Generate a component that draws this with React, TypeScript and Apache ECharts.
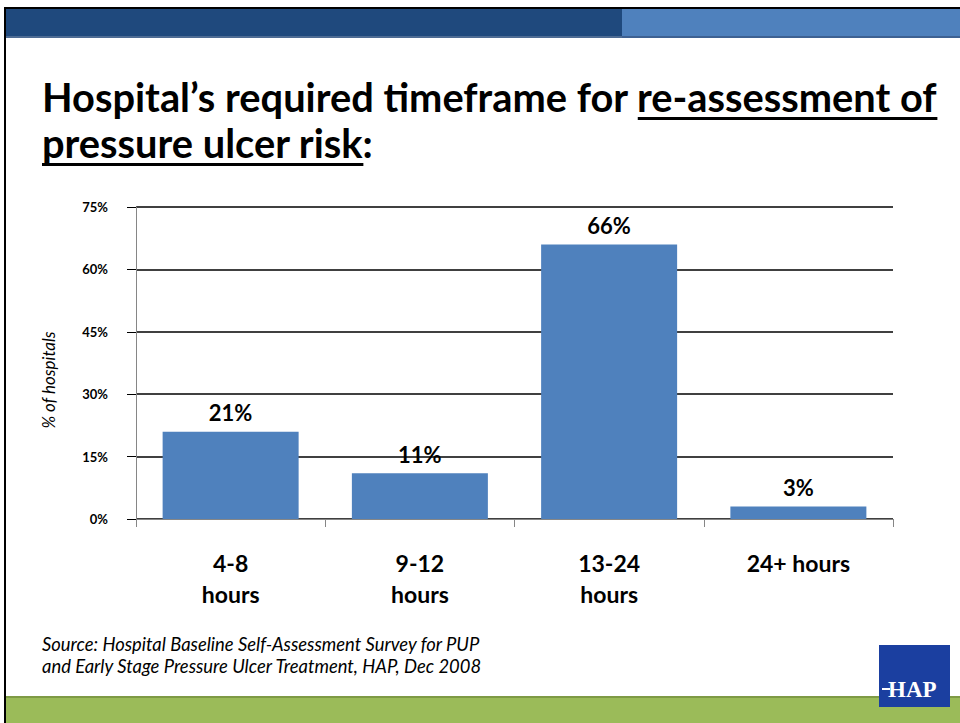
import React, { useEffect, useRef } from "react";
import * as echarts from "echarts";

const categories = ["4-8\nhours", "9-12\nhours", "13-24\nhours", "24+ hours"];
const values = [21, 11, 66, 3];
const yTicks = [0, 15, 30, 45, 60, 75];
const titlePlain1 = "Hospital’s required timeframe for ";
const titleUnder1 = "re-assessment of";
const titleUnder2 = "pressure ulcer risk";
const titlePlain2 = ":";
const sourceLines = [
  "Source: Hospital Baseline Self-Assessment Survey for PUP",
  "and Early Stage Pressure Ulcer Treatment, HAP, Dec 2008",
];
const yAxisName = "% of hospitals";
const logoText = "HAP";

const FONT = "Lato";

function measure(text: string, font: string): number {
  const c = document.createElement("canvas").getContext("2d")!;
  c.font = font;
  return c.measureText(text).width;
}

export default function App() {
  const ref = useRef<HTMLDivElement>(null);
  useEffect(() => {
    document.body.style.margin = "0";
    document.body.style.overflow = "hidden";
    const chart = echarts.init(ref.current!, null, { renderer: "svg" });

    const titleX = 42;
    const titleTarget = 896;
    const w100 = measure(titlePlain1 + titleUnder1, `bold 100px ${FONT}`);
    const titleSize = Math.round(((100 * titleTarget) / w100) * 10) / 10;
    const tf = `bold ${titleSize}px ${FONT}`;
    const plain1W = measure(titlePlain1, tf);
    const under1W = measure(titleUnder1, tf);
    const under2W = measure(titleUnder2, tf);

    const srcW100 = measure(sourceLines[0], `italic 100px ${FONT}`);
    const srcSize = Math.round(((100 * 438) / srcW100) * 10) / 10;

    const titleStyle = {
      fontSize: titleSize,
      fontFamily: FONT,
      fontWeight: "bold",
      fill: "#000",
      align: "left",
      verticalAlign: "middle",
    };

    const option: any = {
      animation: false,
      backgroundColor: "#ffffff",
      grid: { left: 136, right: 67, top: 207, bottom: 204 },
      xAxis: {
        type: "category",
        data: categories,
        axisLine: { lineStyle: { color: "#868686", width: 1 } },
        axisTick: { show: true, length: 8, lineStyle: { color: "#868686" } },
        axisLabel: {
          interval: 0,
          margin: 28,
          color: "#000",
          fontSize: 23,
          fontWeight: "bold",
          lineHeight: 31,
          fontFamily: FONT,
        },
      },
      yAxis: {
        type: "value",
        min: yTicks[0],
        max: yTicks[yTicks.length - 1],
        interval: yTicks[1] - yTicks[0],
        axisLine: { show: true, lineStyle: { color: "#868686", width: 1 } },
        axisTick: { show: true, length: 9, lineStyle: { color: "#000" } },
        splitLine: { lineStyle: { color: "#000", width: 1.5 } },
        axisLabel: {
          formatter: "{value}%",
          fontWeight: "bold",
          fontSize: 13,
          color: "#000",
          margin: 28,
          fontFamily: FONT,
        },
      },
      series: [
        {
          type: "bar",
          data: values,
          barWidth: 136,
          itemStyle: { color: "#4F81BD" },
          label: {
            show: true,
            position: "top",
            distance: 8,
            formatter: "{c}%",
            fontWeight: "bold",
            fontSize: 22,
            color: "#000",
            fontFamily: FONT,
          },
        },
      ],
      graphic: [
        { type: "rect", shape: { x: 4, y: 7, width: 956, height: 2 }, style: { fill: "#000" } },
        { type: "rect", shape: { x: 4, y: 7, width: 2, height: 716 }, style: { fill: "#000" } },
        { type: "rect", shape: { x: 6, y: 9, width: 616, height: 27 }, style: { fill: "#1F497D" } },
        { type: "rect", shape: { x: 622, y: 9, width: 338, height: 27 }, style: { fill: "#4F81BD" } },
        { type: "rect", shape: { x: 6, y: 36, width: 616, height: 2 }, style: { fill: "#4E6C94" } },
        { type: "rect", shape: { x: 622, y: 36, width: 338, height: 2 }, style: { fill: "#3E6192" } },
        { type: "rect", shape: { x: 6, y: 696, width: 954, height: 27 }, style: { fill: "#9BBB59" } },
        { type: "rect", shape: { x: 6, y: 696, width: 954, height: 2 }, style: { fill: "#7E9A45" } },
        { type: "text", x: titleX, y: 96, style: { ...titleStyle, text: titlePlain1 + titleUnder1 } },
        { type: "text", x: titleX, y: 142, style: { ...titleStyle, text: titleUnder2 + titlePlain2 } },
        { type: "rect", shape: { x: titleX + plain1W, y: 117, width: under1W, height: 3 }, style: { fill: "#000" } },
        { type: "rect", shape: { x: titleX, y: 163, width: under2W, height: 3 }, style: { fill: "#000" } },
        {
          type: "text",
          x: 48,
          y: 380,
          rotation: Math.PI / 2,
          style: { text: yAxisName, fontSize: 17, fontStyle: "italic", fontFamily: FONT, fill: "#000", align: "center", verticalAlign: "middle" },
        },
        {
          type: "text",
          x: 42,
          y: 644,
          style: { text: sourceLines[0], fontSize: srcSize, fontStyle: "italic", fontFamily: FONT, fill: "#000", align: "left", verticalAlign: "middle" },
        },
        {
          type: "text",
          x: 42,
          y: 666,
          style: { text: sourceLines[1], fontSize: srcSize, fontStyle: "italic", fontFamily: FONT, fill: "#000", align: "left", verticalAlign: "middle" },
        },
        { type: "rect", shape: { x: 879, y: 645, width: 71, height: 62 }, style: { fill: "#1B3FA0" } },
        { type: "rect", shape: { x: 882, y: 688, width: 8, height: 2 }, style: { fill: "#fff" } },
        {
          type: "text",
          x: 888,
          y: 689,
          style: { text: logoText, fontSize: 23, fontFamily: "Liberation Serif", fontWeight: "bold", fill: "#fff", align: "left", verticalAlign: "middle" },
        },
      ],
    };
    chart.setOption(option);
    return () => chart.dispose();
  }, []);
  return <div ref={ref} style={{ width: 960, height: 723 }} />;
}
